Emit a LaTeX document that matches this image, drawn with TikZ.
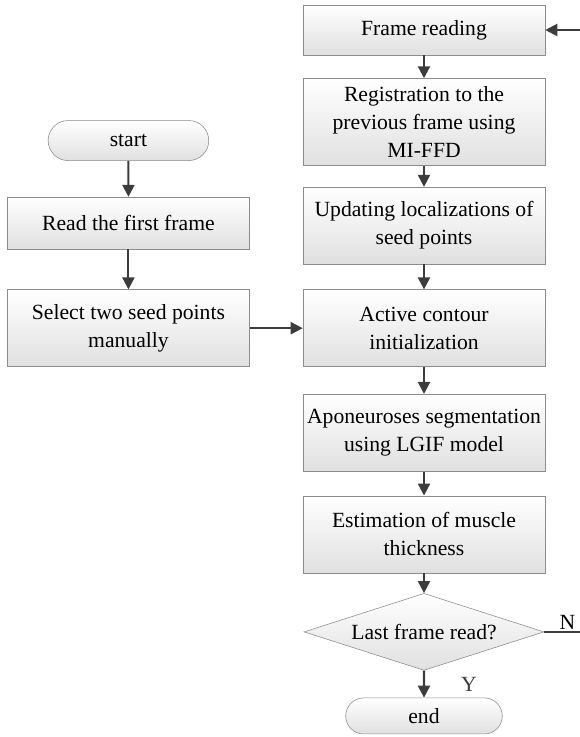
\documentclass[tikz,border=0pt]{standalone}
\usepackage{fontspec}
\setmainfont{Liberation Serif}
\usetikzlibrary{arrows.meta,positioning,shapes.geometric,shapes.misc}
\definecolor{boxline}{RGB}{140,140,140}
\definecolor{boxfill}{RGB}{224,224,224}
\definecolor{arrowgray}{RGB}{60,60,60}

\begin{document}
\begin{tikzpicture}[
  node distance=0.6cm and 1.325cm,
  every node/.style={font=\fontsize{15.4}{19.9}\selectfont, align=center},
  process/.style={draw=boxline, top color=white, bottom color=boxfill, minimum width=6.05cm, minimum height=1.925cm, inner sep=2pt},
  terminal/.style={rounded rectangle, draw=boxline, top color=white, bottom color=boxfill, minimum height=1.0cm},
  decision/.style={diamond, aspect=3, draw=boxline, top color=white, bottom color=boxfill, minimum width=6.0cm, minimum height=1.925cm, inner sep=0pt},
  lbl/.style={inner sep=0pt},
  edge/.style={-{Triangle[length=3mm,width=3mm]}, line width=1.5pt, arrowgray}
]
\useasboundingbox (0,0) rectangle (14.5,-18.425);
\clip (0,0) rectangle (14.5,-18.425);
\node[process, minimum height=1.25cm] (frame) at (10.6,-0.75) {Frame reading};
\node[process, minimum height=2.175cm, below=0.575cm of frame] (reg) {Registration to the\\previous frame using\\MI-FFD};
\node[process, below=0.525cm of reg] (upd) {Updating localizations of\\seed points};
\node[process, below=0.625cm of upd] (act) {Active contour\\initialization};
\node[process, below=0.675cm of act] (seg) {Aponeuroses segmentation\\using LGIF model};
\node[process, below=0.6cm of seg] (est) {Estimation of muscle\\thickness};
\node[decision, below=0.5cm of est] (last) {Last frame read?};
\node[terminal, minimum width=4.15cm, minimum height=0.9cm, below=0.675cm of last] (end) {end};
\node[process, left=of act] (sel) {Select two seed points\\manually};
\node[process, minimum height=1.3cm, above=1.0cm of sel] (first) {Read the first frame};
\node[terminal, minimum width=4.25cm, above=0.9cm of first] (start) {start};
\node[lbl, above right=0.05cm and 0.375cm of last.east] (no) {N};

\draw[edge] (start) -- (first);
\draw[edge] (first) -- (sel);
\draw[edge] (sel) -- (act);
\draw[edge] (frame) -- (reg);
\draw[edge] (reg) -- (upd);
\draw[edge] (upd) -- (act);
\draw[edge] (act) -- (seg);
\draw[edge] (seg) -- (est);
\draw[edge] (est) -- (last);
\draw[edge] (last) -- node[lbl, right=0.9cm] {Y} (end);
\draw[edge] (last.east) -- ++(1.5,0) |- (frame.east);
\end{tikzpicture}
\end{document}
